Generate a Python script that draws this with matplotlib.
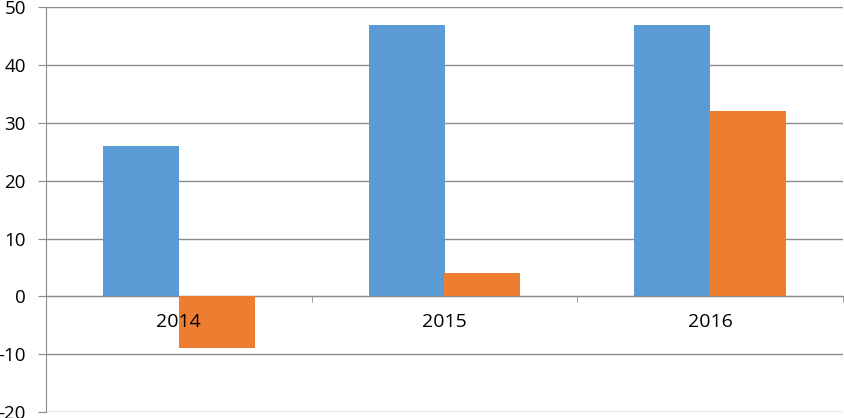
import matplotlib
matplotlib.use("Agg")
import matplotlib.pyplot as plt
import numpy as np

categories = ["2014", "2015", "2016"]
series_a = [26, 47, 47]
series_b = [-9, 4, 32]
y_ticks = [-20, -10, 0, 10, 20, 30, 40, 50]

plt.rcParams['font.family'] = ['Open Sans', 'DejaVu Sans']
plt.rcParams['axes.unicode_minus'] = False

fig = plt.figure(figsize=(8.44, 4.18), dpi=100)
ax = fig.add_axes([46/844, 6/418, 797/844, 404.7/418])

x = np.arange(len(categories))
w = 0.2857
ax.bar(x - w/2, series_a, width=w, color="#5B9BD5", zorder=2)
ax.bar(x + w/2, series_b, width=w, color="#ED7D31", zorder=2)

ax.set_xlim(-0.5, len(categories) - 0.5)
ax.set_ylim(-20, 50)
ax.set_yticks(y_ticks)
ax.yaxis.grid(True, color="#8c8c8c", linewidth=1.0)
ax.yaxis.set_zorder(0.5)
ax.xaxis.set_zorder(3)

for s in ["top", "right"]:
    ax.spines[s].set_visible(False)
ax.spines["left"].set_color("#8c8c8c")
ax.spines["bottom"].set_color("#8c8c8c")
ax.spines["bottom"].set_position(("data", 0))
ax.spines["bottom"].set_zorder(1)

ax.set_xticks(x)
ax.set_xticklabels(categories)
ax.set_xticks(np.arange(-0.5, len(categories) + 0.5, 1), minor=True)
ax.tick_params(axis="x", which="major", length=0, pad=12, labelsize=14, labelcolor="#000000")
ax.tick_params(axis="x", which="minor", length=4, color="#8c8c8c", direction="out")
ax.tick_params(axis="y", length=6, color="#8c8c8c", pad=8.5, labelsize=13.5, labelcolor="#000000")

fig.savefig("out.png", dpi=100)
